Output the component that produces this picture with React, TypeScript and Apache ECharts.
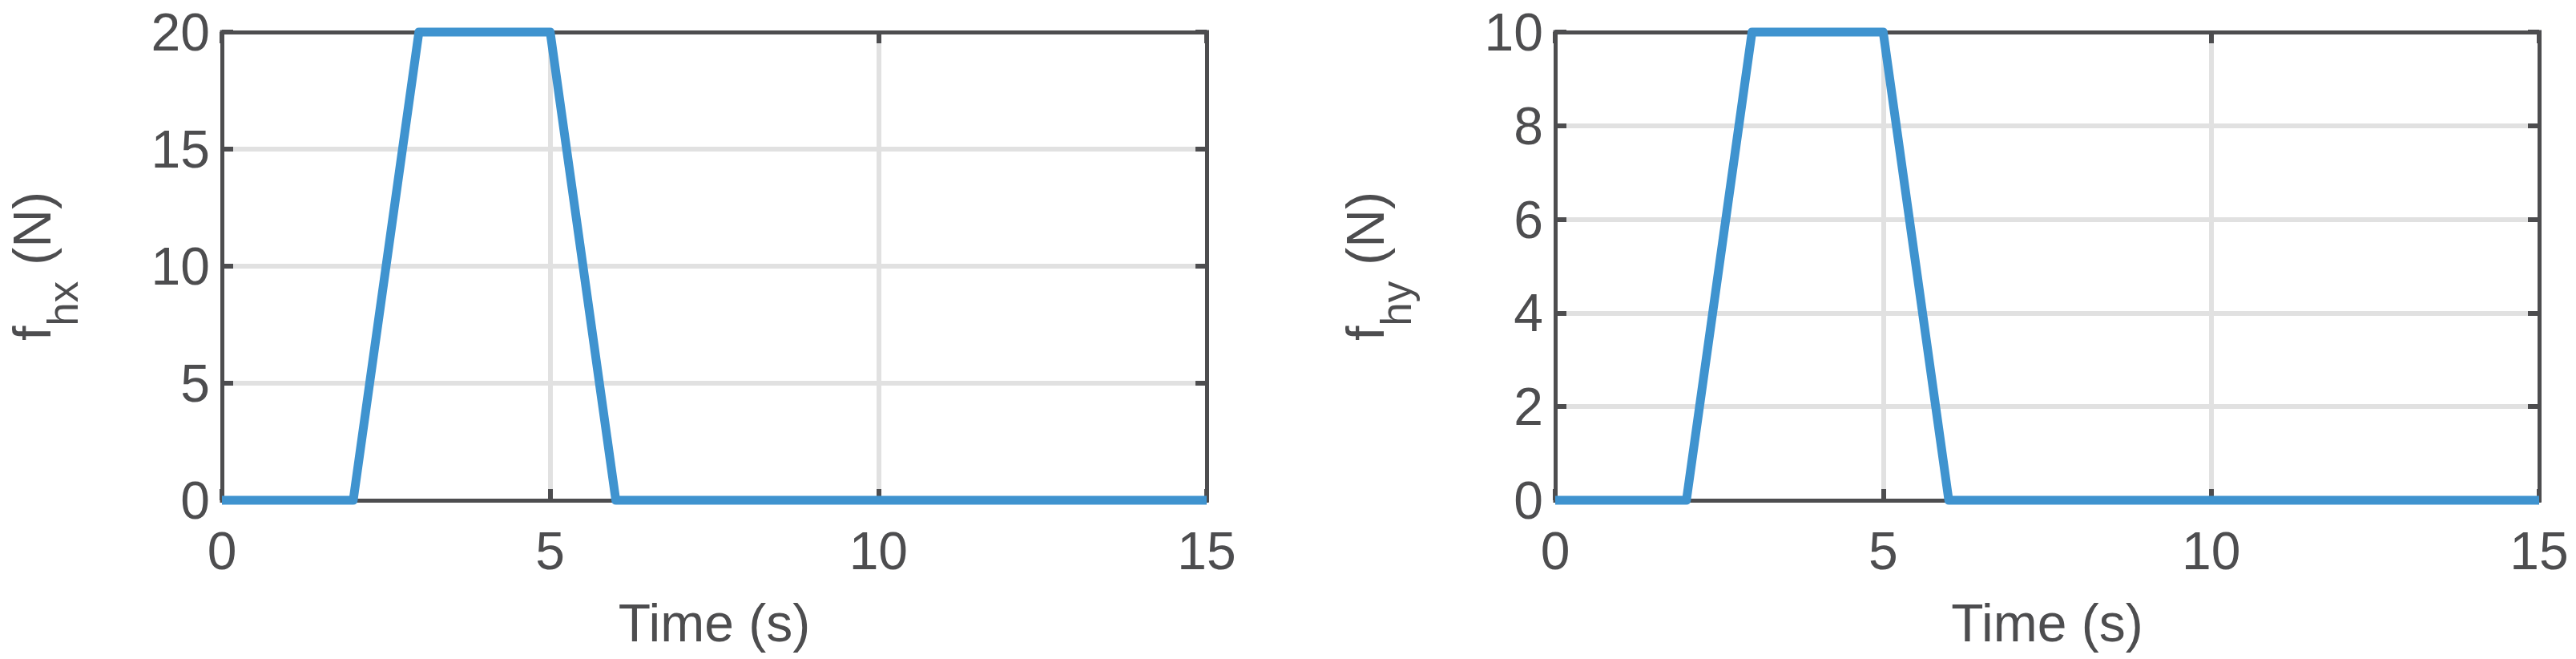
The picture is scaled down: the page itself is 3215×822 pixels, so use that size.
import React, { useEffect, useRef } from "react";
import * as echarts from "echarts";

// ---- data ----
const timeS = [0, 2, 3, 5, 6, 15];
const fhx = [0, 0, 20, 20, 0, 0];
const fhy = [0, 0, 10, 10, 0, 0];
const xRange = [0, 15];
const xStep = 5;
const leftYRange = [0, 20];
const leftYStep = 5;
const rightYRange = [0, 10];
const rightYStep = 2;
const xTitle = "Time (s)";
const leftSub = "hx";
const rightSub = "hy";

// ---- style ----
const FONT = '"Liberation Sans", Arial, Helvetica, sans-serif';
const INK = "#4d4d4f";
const GRIDC = "#e1e1e1";
const BLUE = "#3f93cf";
const FS = 66;
const SUBFS = 53;

function frameLine() {
  return { show: true, onZero: false, lineStyle: { color: INK, width: 5, cap: "square" } };
}
function frameTick() {
  return { show: true, inside: true, length: 14, lineStyle: { color: INK, width: 6 } };
}
function hiddenLine() {
  return { show: false, onZero: false };
}

function xAxes(g: number) {
  const base = { gridIndex: g, type: "value", min: xRange[0], max: xRange[1], interval: xStep };
  return [
    {
      ...base,
      position: "bottom",
      z: 1,
      axisLine: frameLine(),
      axisTick: frameTick(),
      axisLabel: { show: true, margin: 30, fontSize: FS, color: INK, fontFamily: FONT },
      splitLine: { show: false },
      name: xTitle,
      nameLocation: "middle",
      nameGap: 120,
      nameTextStyle: { fontSize: FS, color: INK, fontFamily: FONT },
    },
    {
      ...base,
      position: "top",
      z: 1,
      axisLine: frameLine(),
      axisTick: frameTick(),
      axisLabel: { show: false },
      splitLine: { show: false },
    },
    {
      ...base,
      position: "bottom",
      z: 0,
      axisLine: hiddenLine(),
      axisTick: { show: false },
      axisLabel: { show: false },
      splitLine: { show: true, showMinLine: false, showMaxLine: false, lineStyle: { color: GRIDC, width: 6 } },
    },
  ];
}

function yAxes(g: number, range: number[], step: number, sub: string) {
  const base = { gridIndex: g, type: "value", min: range[0], max: range[1], interval: step };
  return [
    {
      ...base,
      position: "left",
      z: 1,
      axisLine: frameLine(),
      axisTick: frameTick(),
      axisLabel: { show: true, margin: 15, fontSize: FS, color: INK, fontFamily: FONT },
      splitLine: { show: false },
      name: `{m|f}{s|${sub}}{n|(N)}`,
      nameLocation: "middle",
      nameRotate: 90,
      nameGap: 204,
      nameTextStyle: {
        fontSize: FS,
        color: INK,
        fontFamily: FONT,
        rich: {
          m: { fontSize: FS, lineHeight: FS, verticalAlign: "top", color: INK, fontFamily: FONT },
          s: { fontSize: SUBFS, lineHeight: SUBFS, padding: [45, 0, 0, 0], verticalAlign: "top", color: INK, fontFamily: FONT },
          n: { fontSize: FS, lineHeight: FS, padding: [0, 0, 0, 20], verticalAlign: "top", color: INK, fontFamily: FONT },
        },
      },
    },
    {
      ...base,
      position: "right",
      z: 1,
      axisLine: frameLine(),
      axisTick: frameTick(),
      axisLabel: { show: false },
      splitLine: { show: false },
    },
    {
      ...base,
      position: "left",
      z: 0,
      axisLine: hiddenLine(),
      axisTick: { show: false },
      axisLabel: { show: false },
      splitLine: { show: true, showMinLine: false, showMaxLine: false, lineStyle: { color: GRIDC, width: 6 } },
    },
  ];
}

function lineSeries(g: number, values: number[]) {
  return {
    type: "line",
    xAxisIndex: g * 3,
    yAxisIndex: g * 3,
    data: timeS.map((t, i) => [t, values[i]]),
    showSymbol: false,
    symbol: "none",
    clip: false,
    silent: true,
    z: 3,
    lineStyle: { color: BLUE, width: 11, join: "round", cap: "butt" },
  };
}

export default function App() {
  const ref = useRef<HTMLDivElement>(null);
  useEffect(() => {
    if (!ref.current) return;
    const chart = echarts.init(ref.current, null, { renderer: "svg" });
    chart.setOption({
      animation: false,
      backgroundColor: "#ffffff",
      grid: [
        { left: 277, top: 40, width: 1229, height: 584 },
        { left: 1941, top: 40, width: 1228, height: 584 },
      ],
      xAxis: [...xAxes(0), ...xAxes(1)],
      yAxis: [...yAxes(0, leftYRange, leftYStep, leftSub), ...yAxes(1, rightYRange, rightYStep, rightSub)],
      series: [lineSeries(0, fhx), lineSeries(1, fhy)],
    });
    return () => chart.dispose();
  }, []);
  return (
    <div
      ref={ref}
      style={{ position: "absolute", left: 0, top: 0, width: 3215, height: 822, background: "#fff" }}
    />
  );
}
